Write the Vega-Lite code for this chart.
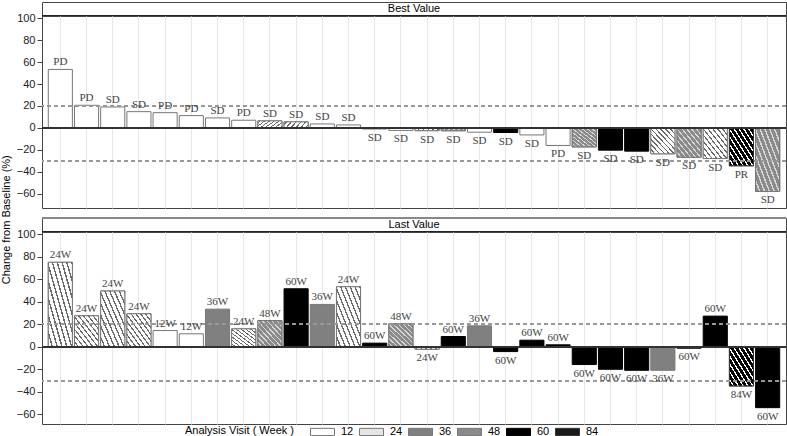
{
  "$schema": "https://vega.github.io/schema/vega-lite/v6.json",
  "padding": {"top": 1, "left": 0, "right": 1, "bottom": 0},
  "background": "white",
  "title": {"text": "Change from Baseline (%)", "orient": "left", "anchor": "middle", "fontSize": 11, "font": "Liberation Sans", "fontWeight": "normal", "color": "#000", "offset": 4},
  "datasets": {
    "pts": [
      {"s": 1, "best": 53.3, "br": "PD", "bv": "12", "last": 75.1, "ll": "24W", "lv": "24"},
      {"s": 2, "best": 20.6, "br": "PD", "bv": "12", "last": 27.6, "ll": "24W", "lv": "24"},
      {"s": 3, "best": 19.1, "br": "SD", "bv": "12", "last": 49.6, "ll": "24W", "lv": "24"},
      {"s": 4, "best": 14.8, "br": "SD", "bv": "12", "last": 29.4, "ll": "24W", "lv": "24"},
      {"s": 5, "best": 13.9, "br": "PD", "bv": "12", "last": 14.5, "ll": "12W", "lv": "12"},
      {"s": 6, "best": 11.2, "br": "PD", "bv": "12", "last": 11.6, "ll": "12W", "lv": "12"},
      {"s": 7, "best": 9.1, "br": "SD", "bv": "12", "last": 33.5, "ll": "36W", "lv": "36"},
      {"s": 8, "best": 7.0, "br": "PD", "bv": "12", "last": 16.0, "ll": "24W", "lv": "24"},
      {"s": 9, "best": 6.4, "br": "SD", "bv": "24", "last": 23.4, "ll": "48W", "lv": "48"},
      {"s": 10, "best": 5.5, "br": "SD", "bv": "24", "last": 51.6, "ll": "60W", "lv": "60"},
      {"s": 11, "best": 3.6, "br": "SD", "bv": "12", "last": 37.7, "ll": "36W", "lv": "36"},
      {"s": 12, "best": 2.7, "br": "SD", "bv": "12", "last": 53.4, "ll": "24W", "lv": "24"},
      {"s": 13, "best": -1.0, "br": "SD", "bv": "36", "last": 3.3, "ll": "60W", "lv": "60"},
      {"s": 14, "best": -2.3, "br": "SD", "bv": "12", "last": 20.5, "ll": "48W", "lv": "48"},
      {"s": 15, "best": -2.5, "br": "SD", "bv": "24", "last": -2.1, "ll": "24W", "lv": "24"},
      {"s": 16, "best": -2.6, "br": "SD", "bv": "48", "last": 9.2, "ll": "60W", "lv": "60"},
      {"s": 17, "best": -3.9, "br": "SD", "bv": "12", "last": 18.7, "ll": "36W", "lv": "36"},
      {"s": 18, "best": -4.2, "br": "SD", "bv": "60", "last": -4.2, "ll": "60W", "lv": "60"},
      {"s": 19, "best": -6.4, "br": "SD", "bv": "12", "last": 5.9, "ll": "60W", "lv": "60"},
      {"s": 20, "best": -16.0, "br": "PD", "bv": "12", "last": 1.8, "ll": "60W", "lv": "60"},
      {"s": 21, "best": -17.3, "br": "SD", "bv": "48", "last": -15.7, "ll": "60W", "lv": "60"},
      {"s": 22, "best": -20.3, "br": "SD", "bv": "60", "last": -19.9, "ll": "60W", "lv": "60"},
      {"s": 23, "best": -21.2, "br": "SD", "bv": "60", "last": -20.8, "ll": "60W", "lv": "60"},
      {"s": 24, "best": -23.6, "br": "SD", "bv": "24", "last": -20.8, "ll": "36W", "lv": "36"},
      {"s": 25, "best": -26.7, "br": "SD", "bv": "48", "last": -1.2, "ll": "60W", "lv": "60"},
      {"s": 26, "best": -27.9, "br": "SD", "bv": "24", "last": 27.3, "ll": "60W", "lv": "60"},
      {"s": 27, "best": -34.5, "br": "PR", "bv": "84", "last": -34.7, "ll": "84W", "lv": "84"},
      {"s": 28, "best": -57.9, "br": "SD", "bv": "48", "last": -54.0, "ll": "60W", "lv": "60"}
    ]
  },
  "spacing": 7,
  "vconcat": [
    {
      "spacing": 0,
      "bounds": "flush",
      "vconcat": [
        {
          "width": 744, "height": 14,
          "data": {"values": [{"t": "Best Value"}]},
          "encoding": {
            "x": {"datum": 0.5, "type": "quantitative", "scale": {"domain": [0, 1]}, "axis": null},
            "y": {"datum": 0.5, "type": "quantitative", "scale": {"domain": [0, 1]}, "axis": null}
          },
          "layer": [
            {"mark": {"type": "text", "font": "Liberation Sans", "fontSize": 11, "color": "#000", "baseline": "middle"}, "encoding": {"text": {"field": "t"}}},
            {"mark": {"type": "rule", "color": "#222", "strokeWidth": 2}, "encoding": {"x": {"datum": 0, "type": "quantitative"}, "x2": {"datum": 1}, "y": {"datum": 0, "type": "quantitative"}}}
          ]
        },
        {
          "width": 744, "height": 192,
          "data": {"name": "pts"},
          "layer": [
            {
              "mark": {"type": "bar", "strokeWidth": 1},
              "encoding": {
                "x": {"field": "s", "type": "ordinal", "scale": {"paddingInner": 0.08, "paddingOuter": 0.24},
                      "axis": {"labels": false, "ticks": false, "domain": false, "title": null, "grid": true, "gridColor": "#e8e8e8", "bandPosition": 0.5}},
                "y": {"field": "best", "type": "quantitative", "scale": {"domain": [-73, 102], "nice": false},
                      "axis": {"values": [-60, -40, -20, 0, 20, 40, 60, 80, 100], "tickCount": 20, "title": null, "grid": false, "tickSize": 5, "labelPadding": 2, "domain": false, "labelOverlap": false}},
                "color": {"field": "bv", "type": "nominal",
                  "scale": {"domain": ["12", "24", "36", "48", "60", "84"], "range": ["#ffffff", "#e6e6e6", "#808080", "#8a8a8a", "#000000", "#1a1a1a"]},
                  "legend": {"orient": "none", "legendX": 143, "legendY": 423, "direction": "horizontal", "title": "Analysis Visit ( Week )", "titleOrient": "left"}
                },
                "stroke": {"field": "bv", "type": "nominal",
                  "scale": {"domain": ["12", "24", "36", "48", "60", "84"], "range": ["#777777", "#777777", "#777777", "#777777", "#000000", "#333333"]},
                  "legend": {"orient": "none", "legendX": 143, "legendY": 423, "direction": "horizontal", "title": "Analysis Visit ( Week )", "titleOrient": "left"}
                }
              }
            },
            {
              "transform": [{"filter": "datum.bv === '24'"}],
              "mark": {"type": "bar", "stroke": "#777", "strokeWidth": 1, "fill": {"gradient": "linear", "x1": 0, "y1": 1, "x2": 1, "y2": 0, "stops": [
                {"offset": 0, "color": "#ffffff"}, {"offset": 0.07, "color": "#ffffff"}, {"offset": 0.07, "color": "#6a6a6a"}, {"offset": 0.1, "color": "#6a6a6a"},
                {"offset": 0.1, "color": "#ffffff"}, {"offset": 0.17, "color": "#ffffff"}, {"offset": 0.17, "color": "#6a6a6a"}, {"offset": 0.2, "color": "#6a6a6a"},
                {"offset": 0.2, "color": "#ffffff"}, {"offset": 0.27, "color": "#ffffff"}, {"offset": 0.27, "color": "#6a6a6a"}, {"offset": 0.3, "color": "#6a6a6a"},
                {"offset": 0.3, "color": "#ffffff"}, {"offset": 0.37, "color": "#ffffff"}, {"offset": 0.37, "color": "#6a6a6a"}, {"offset": 0.4, "color": "#6a6a6a"},
                {"offset": 0.4, "color": "#ffffff"}, {"offset": 0.47, "color": "#ffffff"}, {"offset": 0.47, "color": "#6a6a6a"}, {"offset": 0.5, "color": "#6a6a6a"},
                {"offset": 0.5, "color": "#ffffff"}, {"offset": 0.57, "color": "#ffffff"}, {"offset": 0.57, "color": "#6a6a6a"}, {"offset": 0.6, "color": "#6a6a6a"},
                {"offset": 0.6, "color": "#ffffff"}, {"offset": 0.67, "color": "#ffffff"}, {"offset": 0.67, "color": "#6a6a6a"}, {"offset": 0.7, "color": "#6a6a6a"},
                {"offset": 0.7, "color": "#ffffff"}, {"offset": 0.77, "color": "#ffffff"}, {"offset": 0.77, "color": "#6a6a6a"}, {"offset": 0.8, "color": "#6a6a6a"},
                {"offset": 0.8, "color": "#ffffff"}, {"offset": 0.87, "color": "#ffffff"}, {"offset": 0.87, "color": "#6a6a6a"}, {"offset": 0.9, "color": "#6a6a6a"},
                {"offset": 0.9, "color": "#ffffff"}, {"offset": 0.97, "color": "#ffffff"}, {"offset": 0.97, "color": "#6a6a6a"}, {"offset": 1, "color": "#6a6a6a"}]}},
              "encoding": {"x": {"field": "s", "type": "ordinal"}, "y": {"field": "best", "type": "quantitative"}}
            },
            {
              "transform": [{"filter": "datum.bv === '48'"}],
              "mark": {"type": "bar", "stroke": "#777", "strokeWidth": 1, "fill": {"gradient": "linear", "x1": 0, "y1": 1, "x2": 1, "y2": 0, "stops": [
                {"offset": 0, "color": "#8a8a8a"}, {"offset": 0.07, "color": "#8a8a8a"}, {"offset": 0.07, "color": "#d8d8d8"}, {"offset": 0.1, "color": "#d8d8d8"},
                {"offset": 0.1, "color": "#8a8a8a"}, {"offset": 0.17, "color": "#8a8a8a"}, {"offset": 0.17, "color": "#d8d8d8"}, {"offset": 0.2, "color": "#d8d8d8"},
                {"offset": 0.2, "color": "#8a8a8a"}, {"offset": 0.27, "color": "#8a8a8a"}, {"offset": 0.27, "color": "#d8d8d8"}, {"offset": 0.3, "color": "#d8d8d8"},
                {"offset": 0.3, "color": "#8a8a8a"}, {"offset": 0.37, "color": "#8a8a8a"}, {"offset": 0.37, "color": "#d8d8d8"}, {"offset": 0.4, "color": "#d8d8d8"},
                {"offset": 0.4, "color": "#8a8a8a"}, {"offset": 0.47, "color": "#8a8a8a"}, {"offset": 0.47, "color": "#d8d8d8"}, {"offset": 0.5, "color": "#d8d8d8"},
                {"offset": 0.5, "color": "#8a8a8a"}, {"offset": 0.57, "color": "#8a8a8a"}, {"offset": 0.57, "color": "#d8d8d8"}, {"offset": 0.6, "color": "#d8d8d8"},
                {"offset": 0.6, "color": "#8a8a8a"}, {"offset": 0.67, "color": "#8a8a8a"}, {"offset": 0.67, "color": "#d8d8d8"}, {"offset": 0.7, "color": "#d8d8d8"},
                {"offset": 0.7, "color": "#8a8a8a"}, {"offset": 0.77, "color": "#8a8a8a"}, {"offset": 0.77, "color": "#d8d8d8"}, {"offset": 0.8, "color": "#d8d8d8"},
                {"offset": 0.8, "color": "#8a8a8a"}, {"offset": 0.87, "color": "#8a8a8a"}, {"offset": 0.87, "color": "#d8d8d8"}, {"offset": 0.9, "color": "#d8d8d8"},
                {"offset": 0.9, "color": "#8a8a8a"}, {"offset": 0.97, "color": "#8a8a8a"}, {"offset": 0.97, "color": "#d8d8d8"}, {"offset": 1, "color": "#d8d8d8"}]}},
              "encoding": {"x": {"field": "s", "type": "ordinal"}, "y": {"field": "best", "type": "quantitative"}}
            },
            {
              "transform": [{"filter": "datum.bv === '84'"}],
              "mark": {"type": "bar", "stroke": "#333", "strokeWidth": 1, "fill": {"gradient": "linear", "x1": 0, "y1": 1, "x2": 1, "y2": 0, "stops": [
                {"offset": 0, "color": "#000000"}, {"offset": 0.07, "color": "#000000"}, {"offset": 0.07, "color": "#ffffff"}, {"offset": 0.1, "color": "#ffffff"},
                {"offset": 0.1, "color": "#000000"}, {"offset": 0.17, "color": "#000000"}, {"offset": 0.17, "color": "#ffffff"}, {"offset": 0.2, "color": "#ffffff"},
                {"offset": 0.2, "color": "#000000"}, {"offset": 0.27, "color": "#000000"}, {"offset": 0.27, "color": "#ffffff"}, {"offset": 0.3, "color": "#ffffff"},
                {"offset": 0.3, "color": "#000000"}, {"offset": 0.37, "color": "#000000"}, {"offset": 0.37, "color": "#ffffff"}, {"offset": 0.4, "color": "#ffffff"},
                {"offset": 0.4, "color": "#000000"}, {"offset": 0.47, "color": "#000000"}, {"offset": 0.47, "color": "#ffffff"}, {"offset": 0.5, "color": "#ffffff"},
                {"offset": 0.5, "color": "#000000"}, {"offset": 0.57, "color": "#000000"}, {"offset": 0.57, "color": "#ffffff"}, {"offset": 0.6, "color": "#ffffff"},
                {"offset": 0.6, "color": "#000000"}, {"offset": 0.67, "color": "#000000"}, {"offset": 0.67, "color": "#ffffff"}, {"offset": 0.7, "color": "#ffffff"},
                {"offset": 0.7, "color": "#000000"}, {"offset": 0.77, "color": "#000000"}, {"offset": 0.77, "color": "#ffffff"}, {"offset": 0.8, "color": "#ffffff"},
                {"offset": 0.8, "color": "#000000"}, {"offset": 0.87, "color": "#000000"}, {"offset": 0.87, "color": "#ffffff"}, {"offset": 0.9, "color": "#ffffff"},
                {"offset": 0.9, "color": "#000000"}, {"offset": 0.97, "color": "#000000"}, {"offset": 0.97, "color": "#ffffff"}, {"offset": 1, "color": "#ffffff"}]}},
              "encoding": {"x": {"field": "s", "type": "ordinal"}, "y": {"field": "best", "type": "quantitative"}}
            },
            {"mark": {"type": "rule", "color": "#999", "strokeDash": [4, 3], "strokeWidth": 1}, "encoding": {"y": {"datum": 20}}},
            {"mark": {"type": "rule", "color": "#999", "strokeDash": [4, 3], "strokeWidth": 1}, "encoding": {"y": {"datum": -30}}},
            {"mark": {"type": "rule", "color": "#333", "strokeWidth": 1}, "encoding": {"y": {"datum": 0}}},
            {
              "transform": [{"filter": "datum.best >= 0"}],
              "mark": {"type": "text", "baseline": "bottom", "dy": -2, "font": "Liberation Serif", "fontSize": 11, "color": "#444"},
              "encoding": {"x": {"field": "s", "type": "ordinal"}, "y": {"field": "best", "type": "quantitative"}, "text": {"field": "br"}}
            },
            {
              "transform": [{"filter": "datum.best < 0"}],
              "mark": {"type": "text", "baseline": "top", "dy": 3, "font": "Liberation Serif", "fontSize": 11, "color": "#444"},
              "encoding": {"x": {"field": "s", "type": "ordinal"}, "y": {"field": "best", "type": "quantitative"}, "text": {"field": "br"}}
            }
          ]
        }
      ]
    },
    {
      "spacing": 0,
      "bounds": "flush",
      "vconcat": [
        {
          "width": 744, "height": 14,
          "data": {"values": [{"t": "Last Value"}]},
          "encoding": {
            "x": {"datum": 0.5, "type": "quantitative", "scale": {"domain": [0, 1]}, "axis": null},
            "y": {"datum": 0.5, "type": "quantitative", "scale": {"domain": [0, 1]}, "axis": null}
          },
          "layer": [
            {"mark": {"type": "text", "font": "Liberation Sans", "fontSize": 11, "color": "#000", "baseline": "middle"}, "encoding": {"text": {"field": "t"}}},
            {"mark": {"type": "rule", "color": "#222", "strokeWidth": 2}, "encoding": {"x": {"datum": 0, "type": "quantitative"}, "x2": {"datum": 1}, "y": {"datum": 0, "type": "quantitative"}}},
            {"mark": {"type": "rule", "color": "#888", "strokeWidth": 2}, "encoding": {"x": {"datum": 0, "type": "quantitative"}, "x2": {"datum": 1}, "y": {"datum": 1, "type": "quantitative"}}}
          ]
        },
        {
          "width": 744, "height": 192,
          "data": {"name": "pts"},
          "layer": [
            {
              "mark": {"type": "bar", "strokeWidth": 1},
              "encoding": {
                "x": {"field": "s", "type": "ordinal", "scale": {"paddingInner": 0.08, "paddingOuter": 0.24},
                      "axis": {"labels": false, "ticks": false, "domain": false, "title": null, "grid": true, "gridColor": "#e8e8e8", "bandPosition": 0.5}},
                "y": {"field": "last", "type": "quantitative", "scale": {"domain": [-68.5, 102], "nice": false},
                      "axis": {"values": [-60, -40, -20, 0, 20, 40, 60, 80, 100], "tickCount": 20, "title": null, "grid": false, "tickSize": 5, "labelPadding": 2, "domain": false, "labelOverlap": false}},
                "color": {"field": "lv", "type": "nominal"},
                "stroke": {"field": "lv", "type": "nominal"}
              }
            },
            {
              "transform": [{"filter": "datum.lv === '24'"}],
              "mark": {"type": "bar", "stroke": "#777", "strokeWidth": 1, "fill": {"gradient": "linear", "x1": 0, "y1": 1, "x2": 1, "y2": 0, "stops": [
                {"offset": 0, "color": "#ffffff"}, {"offset": 0.07, "color": "#ffffff"}, {"offset": 0.07, "color": "#6a6a6a"}, {"offset": 0.1, "color": "#6a6a6a"},
                {"offset": 0.1, "color": "#ffffff"}, {"offset": 0.17, "color": "#ffffff"}, {"offset": 0.17, "color": "#6a6a6a"}, {"offset": 0.2, "color": "#6a6a6a"},
                {"offset": 0.2, "color": "#ffffff"}, {"offset": 0.27, "color": "#ffffff"}, {"offset": 0.27, "color": "#6a6a6a"}, {"offset": 0.3, "color": "#6a6a6a"},
                {"offset": 0.3, "color": "#ffffff"}, {"offset": 0.37, "color": "#ffffff"}, {"offset": 0.37, "color": "#6a6a6a"}, {"offset": 0.4, "color": "#6a6a6a"},
                {"offset": 0.4, "color": "#ffffff"}, {"offset": 0.47, "color": "#ffffff"}, {"offset": 0.47, "color": "#6a6a6a"}, {"offset": 0.5, "color": "#6a6a6a"},
                {"offset": 0.5, "color": "#ffffff"}, {"offset": 0.57, "color": "#ffffff"}, {"offset": 0.57, "color": "#6a6a6a"}, {"offset": 0.6, "color": "#6a6a6a"},
                {"offset": 0.6, "color": "#ffffff"}, {"offset": 0.67, "color": "#ffffff"}, {"offset": 0.67, "color": "#6a6a6a"}, {"offset": 0.7, "color": "#6a6a6a"},
                {"offset": 0.7, "color": "#ffffff"}, {"offset": 0.77, "color": "#ffffff"}, {"offset": 0.77, "color": "#6a6a6a"}, {"offset": 0.8, "color": "#6a6a6a"},
                {"offset": 0.8, "color": "#ffffff"}, {"offset": 0.87, "color": "#ffffff"}, {"offset": 0.87, "color": "#6a6a6a"}, {"offset": 0.9, "color": "#6a6a6a"},
                {"offset": 0.9, "color": "#ffffff"}, {"offset": 0.97, "color": "#ffffff"}, {"offset": 0.97, "color": "#6a6a6a"}, {"offset": 1, "color": "#6a6a6a"}]}},
              "encoding": {"x": {"field": "s", "type": "ordinal"}, "y": {"field": "last", "type": "quantitative"}}
            },
            {
              "transform": [{"filter": "datum.lv === '48'"}],
              "mark": {"type": "bar", "stroke": "#777", "strokeWidth": 1, "fill": {"gradient": "linear", "x1": 0, "y1": 1, "x2": 1, "y2": 0, "stops": [
                {"offset": 0, "color": "#8a8a8a"}, {"offset": 0.07, "color": "#8a8a8a"}, {"offset": 0.07, "color": "#d8d8d8"}, {"offset": 0.1, "color": "#d8d8d8"},
                {"offset": 0.1, "color": "#8a8a8a"}, {"offset": 0.17, "color": "#8a8a8a"}, {"offset": 0.17, "color": "#d8d8d8"}, {"offset": 0.2, "color": "#d8d8d8"},
                {"offset": 0.2, "color": "#8a8a8a"}, {"offset": 0.27, "color": "#8a8a8a"}, {"offset": 0.27, "color": "#d8d8d8"}, {"offset": 0.3, "color": "#d8d8d8"},
                {"offset": 0.3, "color": "#8a8a8a"}, {"offset": 0.37, "color": "#8a8a8a"}, {"offset": 0.37, "color": "#d8d8d8"}, {"offset": 0.4, "color": "#d8d8d8"},
                {"offset": 0.4, "color": "#8a8a8a"}, {"offset": 0.47, "color": "#8a8a8a"}, {"offset": 0.47, "color": "#d8d8d8"}, {"offset": 0.5, "color": "#d8d8d8"},
                {"offset": 0.5, "color": "#8a8a8a"}, {"offset": 0.57, "color": "#8a8a8a"}, {"offset": 0.57, "color": "#d8d8d8"}, {"offset": 0.6, "color": "#d8d8d8"},
                {"offset": 0.6, "color": "#8a8a8a"}, {"offset": 0.67, "color": "#8a8a8a"}, {"offset": 0.67, "color": "#d8d8d8"}, {"offset": 0.7, "color": "#d8d8d8"},
                {"offset": 0.7, "color": "#8a8a8a"}, {"offset": 0.77, "color": "#8a8a8a"}, {"offset": 0.77, "color": "#d8d8d8"}, {"offset": 0.8, "color": "#d8d8d8"},
                {"offset": 0.8, "color": "#8a8a8a"}, {"offset": 0.87, "color": "#8a8a8a"}, {"offset": 0.87, "color": "#d8d8d8"}, {"offset": 0.9, "color": "#d8d8d8"},
                {"offset": 0.9, "color": "#8a8a8a"}, {"offset": 0.97, "color": "#8a8a8a"}, {"offset": 0.97, "color": "#d8d8d8"}, {"offset": 1, "color": "#d8d8d8"}]}},
              "encoding": {"x": {"field": "s", "type": "ordinal"}, "y": {"field": "last", "type": "quantitative"}}
            },
            {
              "transform": [{"filter": "datum.lv === '84'"}],
              "mark": {"type": "bar", "stroke": "#333", "strokeWidth": 1, "fill": {"gradient": "linear", "x1": 0, "y1": 1, "x2": 1, "y2": 0, "stops": [
                {"offset": 0, "color": "#000000"}, {"offset": 0.07, "color": "#000000"}, {"offset": 0.07, "color": "#ffffff"}, {"offset": 0.1, "color": "#ffffff"},
                {"offset": 0.1, "color": "#000000"}, {"offset": 0.17, "color": "#000000"}, {"offset": 0.17, "color": "#ffffff"}, {"offset": 0.2, "color": "#ffffff"},
                {"offset": 0.2, "color": "#000000"}, {"offset": 0.27, "color": "#000000"}, {"offset": 0.27, "color": "#ffffff"}, {"offset": 0.3, "color": "#ffffff"},
                {"offset": 0.3, "color": "#000000"}, {"offset": 0.37, "color": "#000000"}, {"offset": 0.37, "color": "#ffffff"}, {"offset": 0.4, "color": "#ffffff"},
                {"offset": 0.4, "color": "#000000"}, {"offset": 0.47, "color": "#000000"}, {"offset": 0.47, "color": "#ffffff"}, {"offset": 0.5, "color": "#ffffff"},
                {"offset": 0.5, "color": "#000000"}, {"offset": 0.57, "color": "#000000"}, {"offset": 0.57, "color": "#ffffff"}, {"offset": 0.6, "color": "#ffffff"},
                {"offset": 0.6, "color": "#000000"}, {"offset": 0.67, "color": "#000000"}, {"offset": 0.67, "color": "#ffffff"}, {"offset": 0.7, "color": "#ffffff"},
                {"offset": 0.7, "color": "#000000"}, {"offset": 0.77, "color": "#000000"}, {"offset": 0.77, "color": "#ffffff"}, {"offset": 0.8, "color": "#ffffff"},
                {"offset": 0.8, "color": "#000000"}, {"offset": 0.87, "color": "#000000"}, {"offset": 0.87, "color": "#ffffff"}, {"offset": 0.9, "color": "#ffffff"},
                {"offset": 0.9, "color": "#000000"}, {"offset": 0.97, "color": "#000000"}, {"offset": 0.97, "color": "#ffffff"}, {"offset": 1, "color": "#ffffff"}]}},
              "encoding": {"x": {"field": "s", "type": "ordinal"}, "y": {"field": "last", "type": "quantitative"}}
            },
            {"mark": {"type": "rule", "color": "#999", "strokeDash": [4, 3], "strokeWidth": 1}, "encoding": {"y": {"datum": 20}}},
            {"mark": {"type": "rule", "color": "#999", "strokeDash": [4, 3], "strokeWidth": 1}, "encoding": {"y": {"datum": -30}}},
            {"mark": {"type": "rule", "color": "#333", "strokeWidth": 1}, "encoding": {"y": {"datum": 0}}},
            {
              "transform": [{"filter": "datum.last >= 0"}],
              "mark": {"type": "text", "baseline": "bottom", "dy": -2, "font": "Liberation Serif", "fontSize": 11, "color": "#444"},
              "encoding": {"x": {"field": "s", "type": "ordinal"}, "y": {"field": "last", "type": "quantitative"}, "text": {"field": "ll"}}
            },
            {
              "transform": [{"filter": "datum.last < 0"}],
              "mark": {"type": "text", "baseline": "top", "dy": 3, "font": "Liberation Serif", "fontSize": 11, "color": "#444"},
              "encoding": {"x": {"field": "s", "type": "ordinal"}, "y": {"field": "last", "type": "quantitative"}, "text": {"field": "ll"}}
            }
          ]
        }
      ]
    }
  ],
  "config": {
    "font": "Liberation Sans",
    "view": {"stroke": "#444", "strokeWidth": 1},
    "axis": {"labelFont": "Liberation Sans", "labelFontSize": 11, "labelColor": "#222", "tickColor": "#444", "labelOverlap": false},
    "axisY": {"labelOverlap": false},
    "legend": {
      "titleFont": "Liberation Sans", "titleFontSize": 11, "titleFontWeight": "normal", "titleColor": "#000",
      "labelFont": "Liberation Sans", "labelFontSize": 11, "labelColor": "#000",
      "symbolType": "M-2,-0.6H2V0.6H-2Z", "symbolSize": 144, "symbolStrokeWidth": 1,
      "columnPadding": 3, "labelOffset": 12, "titlePadding": 21
    }
  }
}
